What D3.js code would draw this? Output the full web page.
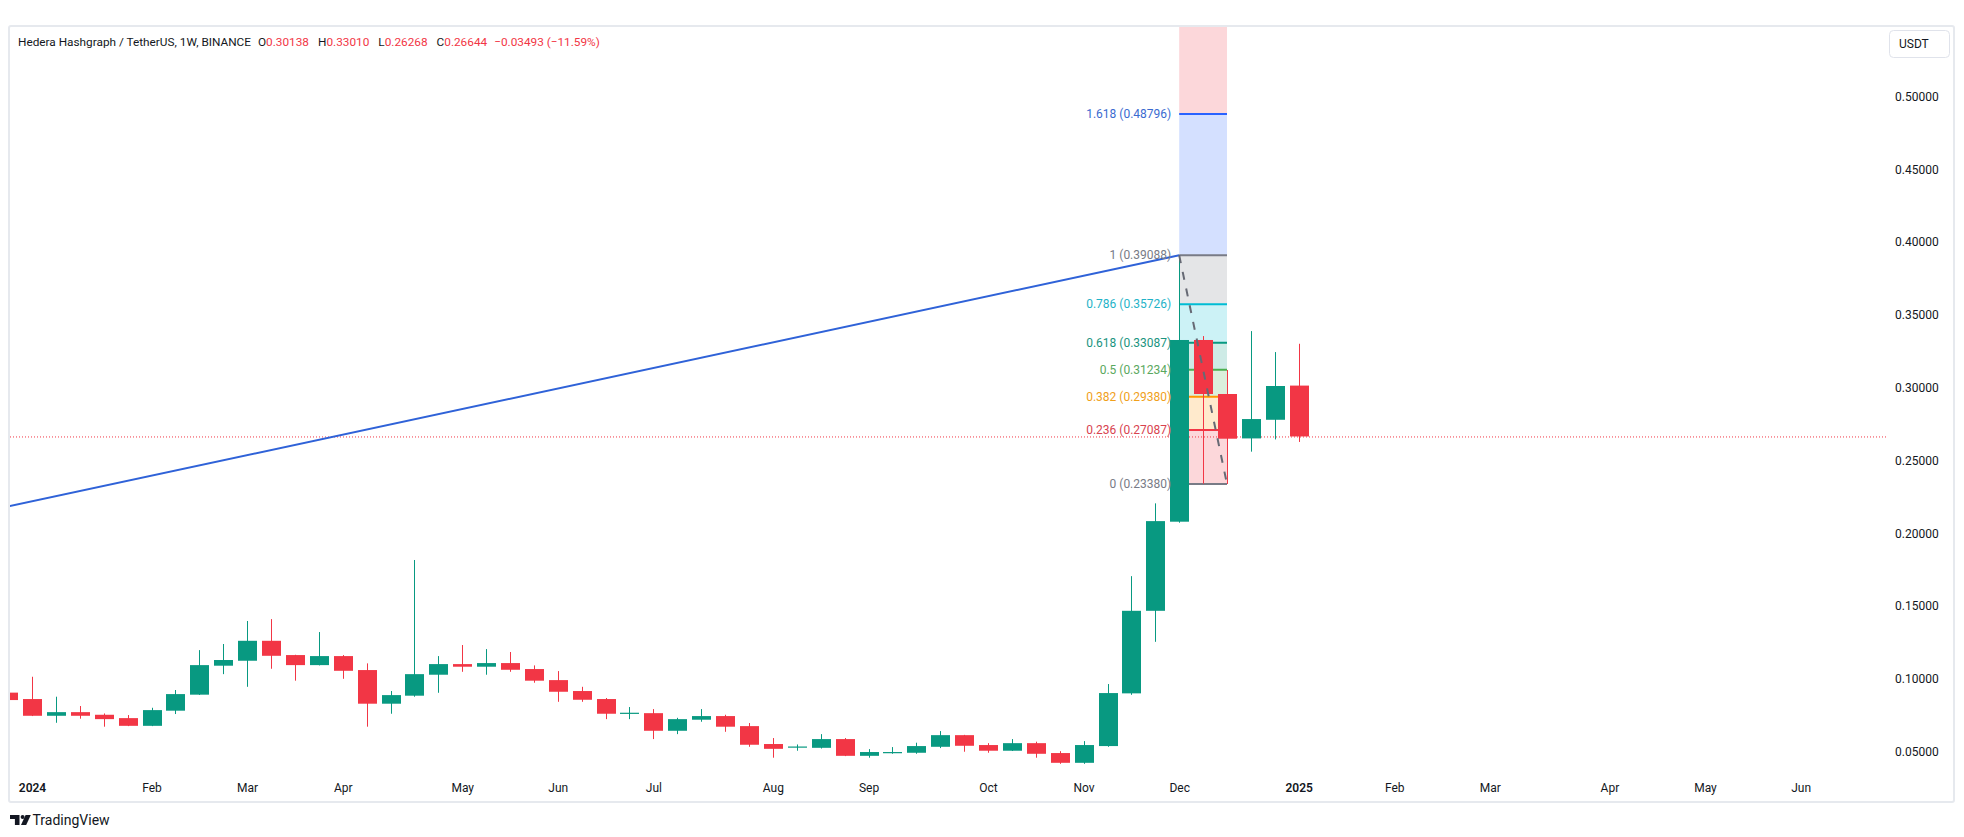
<!DOCTYPE html>
<html><head><meta charset="utf-8">
<script src="https://cdn.jsdelivr.net/npm/d3@7"></script>
<style>
html,body{margin:0;padding:0;background:#fff;}
svg{display:block;font-family:Roboto,"Liberation Sans",Arial,sans-serif;}
</style></head><body>
<svg id="c" width="1964" height="837"></svg>
<script>
// ---- data (weekly HBAR/USDT, Binance) ----
const weeks = ["2023-12-25","2024-01-01","2024-01-08","2024-01-15","2024-01-22","2024-01-29","2024-02-05","2024-02-12","2024-02-19","2024-02-26",
"2024-03-04","2024-03-11","2024-03-18","2024-03-25","2024-04-01","2024-04-08","2024-04-15","2024-04-22","2024-04-29","2024-05-06",
"2024-05-13","2024-05-20","2024-05-27","2024-06-03","2024-06-10","2024-06-17","2024-06-24","2024-07-01","2024-07-08","2024-07-15",
"2024-07-22","2024-07-29","2024-08-05","2024-08-12","2024-08-19","2024-08-26","2024-09-02","2024-09-09","2024-09-16","2024-09-23",
"2024-09-30","2024-10-07","2024-10-14","2024-10-21","2024-10-28","2024-11-04","2024-11-11","2024-11-18","2024-11-25","2024-12-02",
"2024-12-09","2024-12-16","2024-12-23","2024-12-30","2025-01-06"];
const open  = [0.0905,0.0861,0.0746,0.0771,0.0753,0.0730,0.0677,0.0781,0.0891,0.1090,
0.1124,0.1261,0.1163,0.1094,0.1156,0.1060,0.0829,0.0884,0.1028,0.1101,
0.1083,0.1108,0.1067,0.0991,0.0916,0.0861,0.0760,0.0764,0.0643,0.0719,
0.0744,0.0675,0.0552,0.0531,0.0526,0.0586,0.0471,0.0490,0.0492,0.0533,
0.0613,0.0545,0.0506,0.0558,0.0490,0.0423,0.0538,0.0900,0.1467,0.2079,
0.3327,0.2956,0.2651,0.2779,0.30138];
const high  = [0.0946,0.1014,0.0877,0.0813,0.0762,0.0751,0.0801,0.0923,0.1197,0.1239,
0.1397,0.1410,0.1165,0.1321,0.1163,0.1106,0.0916,0.1816,0.1156,0.1232,
0.1204,0.1184,0.1092,0.1053,0.0945,0.0868,0.0806,0.0792,0.0732,0.0792,
0.0753,0.0696,0.0593,0.0549,0.0620,0.0593,0.0517,0.0531,0.0561,0.0641,
0.0615,0.0558,0.0586,0.0568,0.0503,0.0572,0.0964,0.1705,0.2205,0.39088,
0.3354,0.3121,0.3388,0.3244,0.33010];
const low   = [0.0827,0.0744,0.0698,0.0726,0.0671,0.0675,0.0675,0.0758,0.0889,0.1032,
0.0945,0.1069,0.0987,0.1092,0.1000,0.0671,0.0760,0.0877,0.0904,0.1048,
0.1028,0.1048,0.0973,0.0842,0.0842,0.0723,0.0723,0.0586,0.0620,0.0705,
0.0636,0.0533,0.0458,0.0506,0.0521,0.0469,0.0458,0.0485,0.0485,0.0524,
0.0499,0.0492,0.0504,0.0458,0.0416,0.0416,0.0533,0.0890,0.1254,0.2072,
0.2340,0.2338,0.2560,0.2644,0.26268];
const close = [0.0854,0.0746,0.0771,0.0746,0.0723,0.0677,0.0785,0.0895,0.1094,0.1129,
0.1261,0.1158,0.1094,0.1156,0.1055,0.0829,0.0888,0.1032,0.1101,0.1083,
0.1108,0.1062,0.0987,0.0911,0.0856,0.0760,0.0767,0.0643,0.0723,0.0744,
0.0671,0.0547,0.0519,0.0535,0.0586,0.0471,0.0497,0.0497,0.0538,0.0613,
0.0540,0.0506,0.0558,0.0485,0.0423,0.0545,0.0902,0.1467,0.2083,0.3327,
0.2956,0.2649,0.2784,0.3011,0.26644];

const tickDates  = ["2024-01-01","2024-02-05","2024-03-04","2024-04-01","2024-05-06","2024-06-03","2024-07-01","2024-08-05","2024-09-02",
"2024-10-07","2024-11-04","2024-12-02","2025-01-06","2025-02-03","2025-03-03","2025-04-07","2025-05-05","2025-06-02"];
const tickLabels = ["2024","Feb","Mar","Apr","May","Jun","Jul","Aug","Sep","Oct","Nov","Dec","2025","Feb","Mar","Apr","May","Jun"];
const yTicks = [0.05,0.10,0.15,0.20,0.25,0.30,0.35,0.40,0.45,0.50];

const fibRatios = ["0","0.236","0.382","0.5","0.618","0.786","1","1.618","2.618"];
const fibPrices = [0.23380,0.27087,0.29380,0.31234,0.33087,0.35726,0.39088,0.48796,0.64503];
const fibColors = ["#787B86","#F23645","#FF9800","#4CAF50","#089981","#00BCD4","#787B86","#2962FF","#F23645"];
const fibTextColors = ["#787B86","#D8434F","#F0A01A","#5AA85E","#1A9480","#1FB3C8","#787B86","#3A6BD0","#F23645"];
const fibStart = "2024-12-02", fibEnd = "2024-12-16";
const trendDates = ["2023-12-25","2024-12-02"], trendPrices = [0.2184,0.39088];
const swingDates = ["2024-12-02","2024-12-16"], swingPrices = [0.39088,0.23380];

const legendTitle = "Hedera Hashgraph / TetherUS, 1W, BINANCE";
const legendKeys = ["O","H","L","C"];
const legendVals = ["0.30138","0.33010","0.26268","0.26644"];
const legendChange = "\u22120.03493 (\u221211.59%)";

// ---- layout ----
const W = 1964, H = 837;
const plot = {x0: 10, x1: 1886, y0: 27, y1: 774};
const UP = "#089981", DOWN = "#F23645", TXT = "#131722";
const svg = d3.select("#c");
const P = s => new Date(s + "T00:00:00Z");

const x = d3.scaleUtc().domain([P("2024-01-01"), P("2025-06-02")]).range([32, 32 + 74 * 23.9]);
const y = d3.scaleLinear().domain([0.05, 0.5]).range([751.6, 96.4]);

svg.append("rect").attr("width", W).attr("height", H).attr("fill", "#fff");

// frame
svg.append("rect").attr("x", 9).attr("y", 26).attr("width", 1945).attr("height", 776)
  .attr("fill", "none").attr("stroke", "#E6E9EE").attr("stroke-width", 2).attr("rx", 2);

svg.append("clipPath").attr("id", "pc").append("rect")
  .attr("x", plot.x0).attr("y", plot.y0).attr("width", plot.x1 - plot.x0).attr("height", plot.y1 - plot.y0);
const g = svg.append("g").attr("clip-path", "url(#pc)");

// fib retracement
const fx0 = x(P(fibStart)), fx1 = x(P(fibEnd));
for (let k = 1; k < fibPrices.length; k++) {
  g.append("rect").attr("x", fx0).attr("width", fx1 - fx0)
    .attr("y", y(fibPrices[k])).attr("height", y(fibPrices[k - 1]) - y(fibPrices[k]))
    .attr("fill", fibColors[k]).attr("fill-opacity", 0.2);
}
fibPrices.forEach((p, k) => {
  g.append("line").attr("x1", fx0).attr("x2", fx1).attr("y1", y(p)).attr("y2", y(p))
    .attr("stroke", fibColors[k]).attr("stroke-width", 2);
  if (y(p) > plot.y0 + 5) {
    svg.append("text").attr("x", fx0 - 8).attr("y", y(p)).attr("dy", "0.35em")
      .attr("text-anchor", "end").attr("font-size", 12).attr("fill", fibTextColors[k])
      .text(fibRatios[k] + " (" + p.toFixed(5) + ")");
  }
});

// last price dotted line
g.append("line").attr("x1", plot.x0).attr("x2", plot.x1)
  .attr("y1", y(close[close.length - 1]) + 0.5).attr("y2", y(close[close.length - 1]) + 0.5)
  .attr("stroke", DOWN).attr("stroke-width", 1).attr("stroke-dasharray", "1,2");

// candles
const bw = 19;
weeks.forEach((w, i) => {
  const cx = Math.round(x(P(w)));
  const up = close[i] >= open[i];
  const col = up ? UP : DOWN;
  g.append("line").attr("x1", cx + 0.5).attr("x2", cx + 0.5)
    .attr("y1", y(high[i])).attr("y2", y(low[i])).attr("stroke", col).attr("stroke-width", 1);
  const top = y(Math.max(open[i], close[i])), bot = y(Math.min(open[i], close[i]));
  g.append("rect").attr("x", cx + 0.5 - bw / 2).attr("width", bw)
    .attr("y", top).attr("height", Math.max(1.2, bot - top)).attr("fill", col);
});

// trend line
g.append("line").attr("x1", x(P(trendDates[0]))).attr("y1", y(trendPrices[0]))
  .attr("x2", x(P(trendDates[1]))).attr("y2", y(trendPrices[1]))
  .attr("stroke", "#2F62D8").attr("stroke-width", 2);
// fib swing dashed line
g.append("line").attr("x1", x(P(swingDates[0]))).attr("y1", y(swingPrices[0]))
  .attr("x2", x(P(swingDates[1]))).attr("y2", y(swingPrices[1]))
  .attr("stroke", "#666974").attr("stroke-width", 2).attr("stroke-dasharray", "8,9");

// x axis
const xa = svg.append("g").attr("transform", "translate(0,788)")
  .call(d3.axisBottom(x).tickValues(tickDates.map(P)).tickSize(0).tickPadding(0)
    .tickFormat((d, i) => tickLabels[i]));
xa.select(".domain").remove();
xa.selectAll("text").attr("dy", "0.35em").attr("font-size", 12).attr("fill", TXT)
  .attr("font-family", "Roboto, sans-serif")
  .attr("font-weight", (d, i) => /^\d{4}$/.test(tickLabels[i]) ? 600 : 400);

// y axis
const ya = svg.append("g").attr("transform", "translate(1895,0)")
  .call(d3.axisRight(y).tickValues(yTicks).tickSize(0).tickPadding(0).tickFormat(d => d.toFixed(5)));
ya.select(".domain").remove();
ya.selectAll("text").attr("font-size", 12).attr("fill", TXT).attr("font-family", "Roboto, sans-serif");

// USDT box
svg.append("rect").attr("x", 1889.5).attr("y", 30.5).attr("width", 60).attr("height", 27).attr("rx", 4)
  .attr("fill", "#fff").attr("stroke", "#E0E3EB");
svg.append("text").attr("x", 1899).attr("y", 44).attr("dy", "0.35em").attr("font-size", 12)
  .attr("fill", TXT).text("USDT");

// legend (flowed left to right)
const lg = svg.append("g").attr("font-size", 11.8);
let cursor = 18;
const t0 = lg.append("text").attr("x", cursor).attr("y", 42).attr("dy", "0.35em").attr("fill", TXT).text(legendTitle);
cursor += t0.node().getComputedTextLength() + 7;
legendKeys.forEach((k, i) => {
  const t = lg.append("text").attr("x", cursor).attr("y", 42).attr("dy", "0.35em");
  t.append("tspan").attr("fill", TXT).text(k);
  t.append("tspan").attr("fill", DOWN).text(legendVals[i]);
  cursor += t.node().getComputedTextLength() + 9;
});
lg.append("text").attr("x", cursor - 2).attr("y", 42).attr("dy", "0.35em").attr("fill", DOWN).text(legendChange);

// TradingView logo
const logo = svg.append("g").attr("fill", TXT);
logo.append("path").attr("d", "M10 815h9.5v10h-4.6v-6H10z");
logo.append("circle").attr("cx", 22.6).attr("cy", 817).attr("r", 2);
logo.append("path").attr("d", "M25.6 815h5.2l-4.6 10h-5.2z");
svg.append("text").attr("x", 32.5).attr("y", 825).attr("font-size", 14).attr("fill", TXT).text("TradingView");
</script>
</body></html>
